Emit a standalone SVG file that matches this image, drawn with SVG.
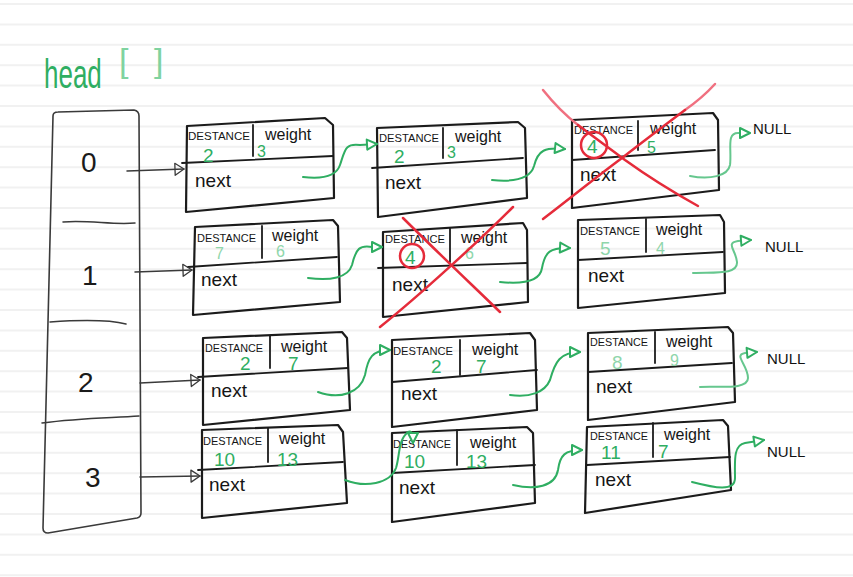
<svg xmlns="http://www.w3.org/2000/svg" width="853" height="577" viewBox="0 0 853 577">
<defs>
<style>
.rule{stroke:#f1f1f1;stroke-width:2}
.box{fill:none;stroke:#1b1b1b;stroke-width:2.2;stroke-linejoin:round;stroke-linecap:round}
.div{fill:none;stroke:#1b1b1b;stroke-width:1.8;stroke-linecap:round}
.arr{fill:none;stroke:#3a3a3a;stroke-width:1.5;stroke-linecap:round}
.t{font-family:"Liberation Sans","DejaVu Sans",sans-serif;fill:#151515}
.lbl{font-size:11px}
.w{font-size:16px}
.nx{font-size:19px}
.num{font-size:28px;fill:#1a1a1a;font-family:"Liberation Sans",sans-serif}
.g{font-family:"Liberation Sans",sans-serif;fill:#2fae62;font-size:19px}
.gs{font-family:"Liberation Sans",sans-serif;fill:#2fae62;font-size:16px}
.fade{fill:#8fd6ab}
.null{font-family:"Liberation Sans",sans-serif;font-size:15px;fill:#111}
.conn{fill:none;stroke:#2fae62;stroke-width:2;stroke-linecap:round}
.connl{fill:none;stroke:#66c78e;stroke-width:2;stroke-linecap:round}
.red{fill:none;stroke:#e52b3a;stroke-width:2.5;stroke-linecap:round}
</style>
<marker id="ga" markerWidth="14" markerHeight="14" refX="12" refY="7" orient="auto" markerUnits="userSpaceOnUse"><path d="M2,2 L12,7 L2,12 Z" fill="#fff" stroke="#2fae62" stroke-width="2" stroke-linejoin="round"/></marker>
<marker id="ba" markerWidth="14" markerHeight="16" refX="12" refY="8" orient="auto" markerUnits="userSpaceOnUse"><path d="M3,2 L12,8 L3,14 Z" fill="none" stroke="#3a3a3a" stroke-width="1.3" stroke-linejoin="round"/></marker>
</defs>
<rect width="853" height="577" fill="#fff"/>
<g id="rules">
<line class="rule" x1="0" y1="4" x2="853" y2="4"/><line class="rule" x1="0" y1="24.4" x2="853" y2="24.4"/><line class="rule" x1="0" y1="44.8" x2="853" y2="44.8"/><line class="rule" x1="0" y1="65.2" x2="853" y2="65.2"/><line class="rule" x1="0" y1="85.6" x2="853" y2="85.6"/><line class="rule" x1="0" y1="106" x2="853" y2="106"/><line class="rule" x1="0" y1="126.4" x2="853" y2="126.4"/><line class="rule" x1="0" y1="146.8" x2="853" y2="146.8"/><line class="rule" x1="0" y1="167.2" x2="853" y2="167.2"/><line class="rule" x1="0" y1="187.6" x2="853" y2="187.6"/><line class="rule" x1="0" y1="208" x2="853" y2="208"/><line class="rule" x1="0" y1="228.4" x2="853" y2="228.4"/><line class="rule" x1="0" y1="248.8" x2="853" y2="248.8"/><line class="rule" x1="0" y1="269.2" x2="853" y2="269.2"/><line class="rule" x1="0" y1="289.6" x2="853" y2="289.6"/><line class="rule" x1="0" y1="310" x2="853" y2="310"/><line class="rule" x1="0" y1="330.4" x2="853" y2="330.4"/><line class="rule" x1="0" y1="350.8" x2="853" y2="350.8"/><line class="rule" x1="0" y1="371.2" x2="853" y2="371.2"/><line class="rule" x1="0" y1="391.6" x2="853" y2="391.6"/><line class="rule" x1="0" y1="412" x2="853" y2="412"/><line class="rule" x1="0" y1="432.4" x2="853" y2="432.4"/><line class="rule" x1="0" y1="452.8" x2="853" y2="452.8"/><line class="rule" x1="0" y1="473.2" x2="853" y2="473.2"/><line class="rule" x1="0" y1="493.6" x2="853" y2="493.6"/><line class="rule" x1="0" y1="514" x2="853" y2="514"/><line class="rule" x1="0" y1="534.4" x2="853" y2="534.4"/><line class="rule" x1="0" y1="554.8" x2="853" y2="554.8"/><line class="rule" x1="0" y1="575.2" x2="853" y2="575.2"/>
</g>
<g id="head-label">
<text transform="translate(44,88) scale(0.65,1)" x="0" y="0" font-family="Liberation Sans, sans-serif" font-size="40" fill="#2fae62">head</text>
<text x="119" y="72" font-family="Liberation Sans, sans-serif" font-size="34" fill="#7fd3a0" letter-spacing="8">[ ]</text>
</g>
<g id="head-array">
<path class="box" style="stroke:#3a3a3a;stroke-width:1.6" d="M53,116 Q53,112 58,112 L134,110 Q139,111 139,116 L141,513 Q141,517 137,518 L48,533 Q43,533 43,528 Z"/>
<path class="div" style="stroke:#3a3a3a;stroke-width:1.5" d="M63,222 C90,220 112,225 135,223"/>
<path class="div" style="stroke:#3a3a3a;stroke-width:1.5" d="M50,322 C80,320 110,320 126,324"/>
<path class="div" style="stroke:#3a3a3a;stroke-width:1.5" d="M42,423 C80,418 110,418 139,416"/>
<text class="num" x="81" y="172">0</text>
<text class="num" x="82" y="285">1</text>
<text class="num" x="78" y="392">2</text>
<text class="num" x="85" y="487">3</text>
</g>
<g id="node-0-0">
<path class="box" d="M187,126 L325,118 L333,125 L334,198 L186,212 Z"/>
<path class="div" d="M182,163 L333,156"/><path class="div" d="M253,125 L253,156"/>
<text class="t lbl" x="188" y="140" textLength="62" lengthAdjust="spacingAndGlyphs">DESTANCE</text>
<text class="t w" x="265" y="140">weight</text>
<text class="g" x="203" y="162">2</text><text class="gs" x="257" y="157">3</text>
<text class="t nx" x="195" y="187">next</text>
</g>
<g id="node-0-1">
<path class="box" d="M377,128 L518,122 L525,128 L527,198 L378,217 Z"/>
<path class="div" d="M372,168 L523,158"/><path class="div" d="M443,128 L443,158"/>
<text class="t lbl" x="379" y="142" textLength="60" lengthAdjust="spacingAndGlyphs">DESTANCE</text>
<text class="t w" x="455" y="142">weight</text>
<text class="g" x="394" y="163">2</text><text class="gs" x="447" y="158">3</text>
<text class="t nx" x="385" y="189">next</text>
</g>
<g id="node-0-2">
<path class="box" d="M572,120 L713,113 L718,120 L719,190 L572,208 Z"/>
<path class="div" d="M572,160 L715,150"/><path class="div" d="M638,121 L638,150"/>
<text class="t lbl" x="574" y="134" textLength="59" lengthAdjust="spacingAndGlyphs">DESTANCE</text>
<text class="t w" x="650" y="134">weight</text>
<text class="g" x="587" y="153">4</text><text class="gs" x="647" y="153">5</text>
<text class="t nx" x="580" y="181">next</text>
<circle class="red" cx="594" cy="145" r="13"/>
<path class="red" style="stroke:#f07080" d="M543,90 C555,105 565,115 578,125"/>
<path class="red" d="M578,125 C595,138 612,150 625,160 C650,178 680,196 698,206"/>
<path class="red" style="stroke:#f07080" d="M715,84 C705,95 695,103 685,110"/>
<path class="red" d="M685,110 C665,125 645,140 622,158 C595,178 568,200 543,219"/>
</g>
<g id="node-1-0">
<path class="box" d="M195,227 L333,220 L338,226 L340,302 L193,315 Z"/>
<path class="div" d="M188,267 L337,257"/><path class="div" d="M262,226 L262,258"/>
<text class="t lbl" x="197" y="242" textLength="59" lengthAdjust="spacingAndGlyphs">DESTANCE</text>
<text class="t w" x="272" y="241">weight</text>
<text class="gs fade" x="215" y="259">7</text><text class="gs fade" x="276" y="257">6</text>
<text class="t nx" x="201" y="286">next</text>
</g>
<g id="node-1-1">
<path class="box" d="M383,232 L523,223 L527,230 L528,302 L383,317 Z"/>
<path class="div" d="M378,268 L527,263"/><path class="div" d="M450,228 L450,262"/>
<text class="t lbl" x="385" y="243" textLength="60" lengthAdjust="spacingAndGlyphs">DESTANCE</text>
<text class="t w" x="461" y="243">weight</text>
<text class="g" x="405" y="264">4</text><text class="gs fade" x="465" y="259">6</text>
<text class="t nx" x="392" y="291">next</text>
<circle class="red" cx="412" cy="256" r="12"/>
<path class="red" d="M403,218 C430,245 470,283 500,312"/>
<path class="red" d="M513,207 C480,240 420,295 380,327"/>
</g>
<g id="node-1-2">
<path class="box" d="M578,220 L720,215 L724,222 L725,293 L578,308 Z"/>
<path class="div" d="M578,260 L723,252"/><path class="div" d="M646,219 L646,252"/>
<text class="t lbl" x="580" y="235" textLength="60" lengthAdjust="spacingAndGlyphs">DESTANCE</text>
<text class="t w" x="656" y="235">weight</text>
<text class="g fade" x="600" y="255">5</text><text class="gs fade" x="656" y="254">4</text>
<text class="t nx" x="588" y="282">next</text>
</g>
<g id="node-2-0">
<path class="box" d="M203,338 L342,332 L347,338 L350,410 L203,425 Z"/>
<path class="div" d="M198,377 L348,368"/><path class="div" d="M270,336 L270,368"/>
<text class="t lbl" x="205" y="352" textLength="58" lengthAdjust="spacingAndGlyphs">DESTANCE</text>
<text class="t w" x="281" y="352">weight</text>
<text class="g" x="240" y="370">2</text><text class="g" x="288" y="370">7</text>
<text class="t nx" x="211" y="397">next</text>
</g>
<g id="node-2-1">
<path class="box" d="M392,340 L530,333 L535,340 L537,410 L392,427 Z"/>
<path class="div" d="M392,382 L537,370"/><path class="div" d="M460,340 L460,375"/>
<text class="t lbl" x="393" y="355" textLength="60" lengthAdjust="spacingAndGlyphs">DESTANCE</text>
<text class="t w" x="472" y="355">weight</text>
<text class="g" x="431" y="373">2</text><text class="g" x="476" y="373">7</text>
<text class="t nx" x="401" y="400">next</text>
</g>
<g id="node-2-2">
<path class="box" d="M588,333 L728,327 L733,333 L735,402 L588,420 Z"/>
<path class="div" d="M588,372 L732,363"/><path class="div" d="M655,332 L655,363"/>
<text class="t lbl" x="590" y="346" textLength="58" lengthAdjust="spacingAndGlyphs">DESTANCE</text>
<text class="t w" x="666" y="347">weight</text>
<text class="g fade" x="612" y="369">8</text><text class="gs fade" x="670" y="366">9</text>
<text class="t nx" x="596" y="393">next</text>
</g>
<g id="node-3-0">
<path class="box" d="M202,430 L338,425 L343,432 L347,503 L202,518 Z"/>
<path class="div" d="M198,470 L343,462"/><path class="div" d="M268,428 L268,462"/>
<text class="t lbl" x="203" y="445" textLength="59" lengthAdjust="spacingAndGlyphs">DESTANCE</text>
<text class="t w" x="279" y="444">weight</text>
<text class="g" x="214" y="466">10</text><text class="g" x="277" y="466">13</text>
<text class="t nx" x="209" y="491">next</text>
</g>
<g id="node-3-1">
<path class="box" d="M392,433 L527,427 L533,433 L535,503 L392,522 Z"/>
<path class="div" d="M392,473 L535,465"/><path class="div" d="M457,430 L457,465"/>
<text class="t lbl" x="393" y="448" textLength="58" lengthAdjust="spacingAndGlyphs">DESTANCE</text>
<text class="t w" x="470" y="448">weight</text>
<text class="g" x="404" y="468">10</text><text class="g" x="466" y="468">13</text>
<text class="t nx" x="399" y="494">next</text>
</g>
<g id="node-3-2">
<path class="box" d="M587,427 L723,420 L728,426 L731,490 L585,513 Z"/>
<path class="div" d="M587,465 L730,457"/><path class="div" d="M653,423 L653,457"/>
<text class="t lbl" x="590" y="440" textLength="58" lengthAdjust="spacingAndGlyphs">DESTANCE</text>
<text class="t w" x="664" y="440">weight</text>
<text class="g" x="601" y="459">11</text><text class="g" x="658" y="458">7</text>
<text class="t nx" x="595" y="486">next</text>
</g>
<g id="null-labels">
<text class="null" x="753" y="134">NULL</text>
<text class="null" x="765" y="252">NULL</text>
<text class="null" x="767" y="364">NULL</text>
<text class="null" x="767" y="457">NULL</text>
</g>
<g id="connectors">
<path class="arr" marker-end="url(#ba)" d="M127,171 L184,169"/>
<path class="arr" marker-end="url(#ba)" d="M135,272 L192,270"/>
<path class="arr" marker-end="url(#ba)" d="M140,383 L200,380"/>
<path class="arr" marker-end="url(#ba)" d="M140,477 L200,476"/>
<path class="conn" marker-end="url(#ga)" d="M303,177 C320,179 336,177 340,165 C345,150 345,143 360,145 L377,144"/>
<path class="conn" marker-end="url(#ga)" d="M492,180 C512,182 530,180 534,166 C538,150 545,147 565,149"/>
<path class="connl" marker-end="url(#ga)" d="M690,176 C710,180 728,176 730,165 C732,150 726,133 738,133 L750,133"/>
<path class="conn" marker-end="url(#ga)" d="M308,278 C330,281 348,278 352,265 C356,248 360,245 372,247 L382,247"/>
<path class="conn" marker-end="url(#ga)" d="M500,282 C520,284 540,282 542,268 C545,252 550,247 570,248"/>
<path class="connl" marker-end="url(#ga)" d="M693,273 C715,272 738,275 737,262 C736,250 725,243 738,241 L751,240"/>
<path class="conn" marker-end="url(#ga)" d="M318,392 C340,400 360,393 365,375 C368,358 372,350 390,350"/>
<path class="conn" marker-end="url(#ga)" d="M510,395 C530,398 545,392 550,380 C555,362 560,352 580,352"/>
<path class="connl" marker-end="url(#ga)" d="M700,387 C720,386 748,390 748,378 C748,365 733,355 745,353 L757,352"/>
<path class="conn" marker-end="url(#ga)" d="M345,480 C365,488 390,484 396,468 C400,455 398,440 408,432 C412,430 413,435 413,443"/>
<path class="conn" marker-end="url(#ga)" d="M513,485 C535,490 555,487 558,470 C560,455 565,450 582,450"/>
<path class="conn" marker-end="url(#ga)" d="M692,482 C715,488 735,492 735,478 C735,462 733,445 745,443 L764,440"/>
</g>
</svg>
